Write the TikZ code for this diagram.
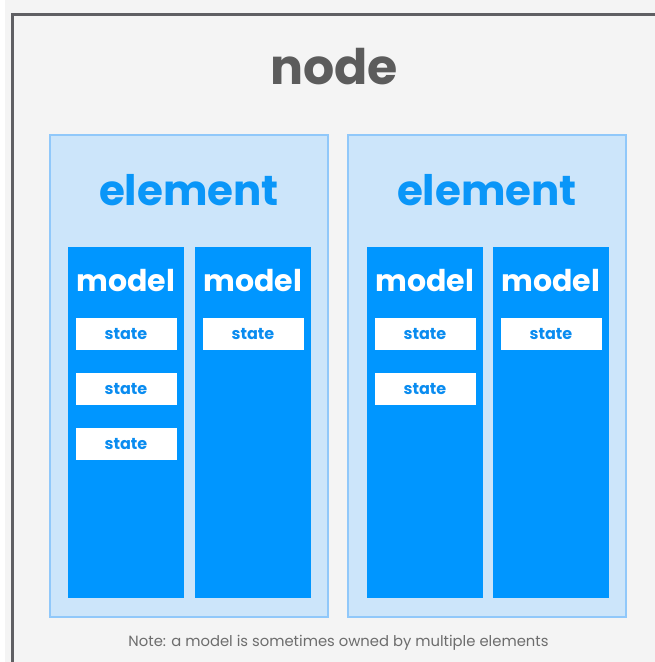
\documentclass[tikz,border=0pt]{standalone}
\usepackage{fontspec}
\setmainfont{Poppins}
\usetikzlibrary{positioning}

\definecolor{pagebg}{HTML}{F4F4F4}
\definecolor{framegray}{HTML}{5F5F63}
\definecolor{titlegray}{HTML}{5C5C5C}
\definecolor{elemfill}{HTML}{CCE5FA}
\definecolor{elemline}{HTML}{90C8FA}
\definecolor{elemtext}{HTML}{0A96F8}
\definecolor{modelblue}{HTML}{0096FF}
\definecolor{statetext}{HTML}{0A8CF0}
\definecolor{notegray}{HTML}{6D6D6D}

\tikzset{
  elembox/.style={draw=elemline, line width=2pt, fill=elemfill, minimum width=278pt, minimum height=482pt, inner sep=0pt},
  elemlabel/.style={text=elemtext, font=\bfseries\fontsize{42}{42}\selectfont, inner sep=0pt},
  modelbox/.style={fill=modelblue, minimum width=116pt, minimum height=351pt, inner sep=0pt},
  modellabel/.style={text=white, font=\bfseries\fontsize{30}{30}\selectfont, inner sep=0pt},
  statebox/.style={fill=white, text=statetext, font=\bfseries\fontsize{16}{16}\selectfont, minimum width=101pt, minimum height=32pt, inner sep=0pt}
}

\begin{document}
\begin{tikzpicture}[x=1pt,y=-1pt]
    \useasboundingbox (0,0) rectangle (655,662);
    \fill[pagebg] (0,0) rectangle (655,662);
    \fill[white] (0,0) rectangle (5,662);
    \draw[framegray, line width=3pt] (12.5,662) |- (655,14.5);
    \node[text=titlegray, font=\bfseries\fontsize{49}{49}\selectfont, inner sep=0pt] (title) at (334,67) {node};

    % elements
    \node[elembox] (elemL) at (189,376) {};
    \node[elembox] (elemR) at (487,376) {};
    \node[elemlabel] (elemLtitle) at (189,190) {element};
    \node[elemlabel] (elemRtitle) at (487,190) {element};

    % models
    \node[modelbox] (modelA) at (126,422.5) {};
    \node[modelbox] (modelB) at (253,422.5) {};
    \node[modelbox] (modelC) at (425,422.5) {};
    \node[modelbox] (modelD) at (551,422.5) {};
    \foreach \m/\x in {A/126,B/253,C/425,D/551}
        \node[modellabel] (model\m title) at (\x,281) {model};

    % states
    \node[statebox] (stateA1) at (126,334) {state};
    \node[statebox] (stateA2) at (126,389) {state};
    \node[statebox] (stateA3) at (126,444) {state};
    \node[statebox] (stateB1) at (253,334) {state};
    \node[statebox] (stateC1) at (425,334) {state};
    \node[statebox] (stateC2) at (425,389) {state};
    \node[statebox] (stateD1) at (551,334) {state};

    \node[text=notegray, font=\fontsize{14.8}{14.8}\selectfont, inner sep=0pt] (note) at (338.5,643) {Note: a model is sometimes owned by multiple elements};
\end{tikzpicture}
\end{document}
